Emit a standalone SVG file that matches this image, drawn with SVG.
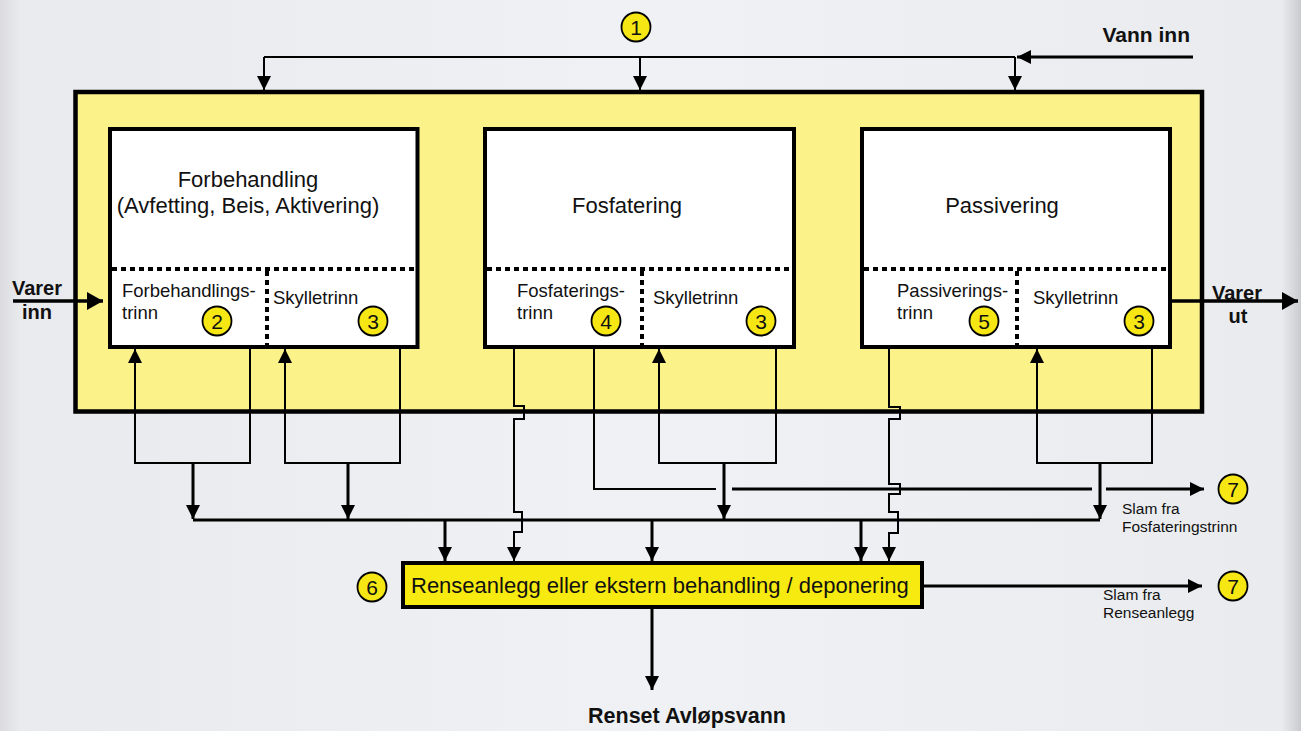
<svg xmlns="http://www.w3.org/2000/svg" width="1301" height="731" viewBox="0 0 1301 731">
<defs>
<linearGradient id="bg" x1="0" y1="0" x2="1" y2="0">
<stop offset="0" stop-color="#DCDCE0"/>
<stop offset="0.015" stop-color="#E8EAEE"/>
<stop offset="0.5" stop-color="#EFF1F4"/>
<stop offset="0.985" stop-color="#E9EBEE"/>
<stop offset="1" stop-color="#C9CBCF"/>
</linearGradient>
<marker id="ah" viewBox="0 0 14 14" refX="14" refY="7" markerWidth="14" markerHeight="14" markerUnits="userSpaceOnUse" orient="auto"><path d="M0,0 L14,7 L0,14 z" fill="#000"/></marker>
<marker id="ahL" viewBox="0 0 16 18" refX="16" refY="9" markerWidth="16" markerHeight="18" markerUnits="userSpaceOnUse" orient="auto"><path d="M0,0 L16,9 L0,18 z" fill="#000"/></marker>
</defs>
<style>
text{font-family:"Liberation Sans",Arial,sans-serif;fill:#111}
.title{font-size:22px;text-anchor:middle}
.sub{font-size:18.5px}
.small{font-size:15.5px}
.bold{font-weight:bold}
.num{font-size:21px;text-anchor:middle}
.stage{fill:#fff;stroke:#000;stroke-width:4}
.dot{fill:none;stroke:#000;stroke-width:4;stroke-dasharray:5 4}
.badge{fill:#F6E714;stroke:#000;stroke-width:1.8}
.thin{fill:none;stroke:#000;stroke-width:2}
.thick{fill:none;stroke:#000;stroke-width:3}
</style>
<rect x="0" y="0" width="1301" height="731" fill="url(#bg)"/>

<g id="plant">
<rect x="75.5" y="92" width="1126.5" height="319.5" fill="#FBF28A" stroke="#000" stroke-width="4.5"/>
</g>

<g id="stage-forbehandling">
<rect class="stage" x="110" y="129" width="307.5" height="218"/>
<line class="dot" x1="112" y1="269" x2="415" y2="269"/>
<line class="dot" x1="267" y1="271" x2="267" y2="345"/>
<text class="title" x="248" y="187">Forbehandling</text>
<text class="title" x="248" y="213">(Avfetting, Beis, Aktivering)</text>
<text class="sub" x="122" y="297">Forbehandlings-</text>
<text class="sub" x="122" y="319">trinn</text>
<text class="sub" x="273" y="304">Skylletrinn</text>
</g>

<g id="stage-fosfatering">
<rect class="stage" x="485" y="129" width="309" height="218"/>
<line class="dot" x1="487" y1="269" x2="792" y2="269"/>
<line class="dot" x1="642" y1="271" x2="642" y2="345"/>
<text class="title" x="627" y="213">Fosfatering</text>
<text class="sub" x="517" y="297">Fosfaterings-</text>
<text class="sub" x="517" y="319">trinn</text>
<text class="sub" x="653" y="304">Skylletrinn</text>
</g>

<g id="stage-passivering">
<rect class="stage" x="862" y="129" width="308" height="218"/>
<line class="dot" x1="864" y1="269" x2="1168" y2="269"/>
<line class="dot" x1="1017" y1="271" x2="1017" y2="345"/>
<text class="title" x="1002" y="213">Passivering</text>
<text class="sub" x="897" y="297">Passiverings-</text>
<text class="sub" x="897" y="319">trinn</text>
<text class="sub" x="1033" y="304">Skylletrinn</text>
</g>

<g id="renseanlegg">
<rect x="403" y="563" width="519" height="44" fill="#F7EA10" stroke="#000" stroke-width="4"/>
<text x="411" y="593" style="font-size:22px">Renseanlegg eller ekstern behandling / deponering</text>
</g>

<g id="connectors">
<path class="thick" d="M1193,57 H1017" marker-end="url(#ah)"/>
<path class="thin" d="M264,57 H1015"/>
<path class="thin" d="M264,57 V90" marker-end="url(#ah)"/>
<path class="thin" d="M640,57 V90" marker-end="url(#ah)"/>
<path class="thin" d="M1015,57 V90" marker-end="url(#ah)"/>
<path d="M13,301 H103" fill="none" stroke="#000" stroke-width="3.5" marker-end="url(#ahL)"/>
<path d="M1172,301 H1298" fill="none" stroke="#000" stroke-width="3.5" marker-end="url(#ahL)"/>

<path class="thin" d="M250,347 V463 H135 V349" marker-end="url(#ah)"/>
<path class="thin" d="M400,347 V463 H285 V349" marker-end="url(#ah)"/>
<path class="thick" d="M193,463 V519" marker-end="url(#ah)"/>
<path class="thick" d="M348,463 V519" marker-end="url(#ah)"/>

<path class="thin" d="M776,347 V463 H659 V349" marker-end="url(#ah)"/>
<path class="thick" d="M724,463 V519" marker-end="url(#ah)"/>
<path class="thin" d="M594,347 V489 H716"/>
<path class="thick" d="M732,489 H1092"/>
<path class="thick" d="M1106,489 H1204" marker-end="url(#ah)"/>
<path class="thin" d="M514,347 V406 H524 V419 H514 V512 H522 V532 H514 V561" marker-end="url(#ah)"/>

<path class="thin" d="M1152,347 V463 H1037 V349" marker-end="url(#ah)"/>
<path class="thick" d="M1100,463 V519" marker-end="url(#ah)"/>
<path class="thin" d="M889,347 V407 H900 V419 H889 V484 H900 V494 H889 V512 H898 V533 H889 V561" marker-end="url(#ah)"/>

<path class="thick" d="M193,520 H1100"/>
<path class="thick" d="M445,520 V561" marker-end="url(#ah)"/>
<path class="thick" d="M652,520 V561" marker-end="url(#ah)"/>
<path class="thick" d="M861,520 V561" marker-end="url(#ah)"/>
<path class="thick" d="M922,586 H1202" marker-end="url(#ah)"/>
<path class="thick" d="M652,607 V690" marker-end="url(#ah)"/>
</g>

<g id="badges">
<g id="b1"><circle class="badge" cx="636" cy="27" r="14.5"/><text class="num" x="636" y="34.5">1</text></g>
<g id="b2"><circle class="badge" cx="217" cy="321" r="14.5"/><text class="num" x="217" y="328.5">2</text></g>
<g id="b3a"><circle class="badge" cx="373" cy="321" r="14.5"/><text class="num" x="373" y="328.5">3</text></g>
<g id="b4"><circle class="badge" cx="606" cy="321" r="14.5"/><text class="num" x="606" y="328.5">4</text></g>
<g id="b3b"><circle class="badge" cx="761" cy="321" r="14.5"/><text class="num" x="761" y="328.5">3</text></g>
<g id="b5"><circle class="badge" cx="984" cy="321" r="14.5"/><text class="num" x="984" y="328.5">5</text></g>
<g id="b3c"><circle class="badge" cx="1139" cy="321" r="14.5"/><text class="num" x="1139" y="328.5">3</text></g>
<g id="b6"><circle class="badge" cx="372" cy="587" r="14.5"/><text class="num" x="372" y="594.5">6</text></g>
<g id="b7a"><circle class="badge" cx="1233" cy="489" r="14.5"/><text class="num" x="1233" y="496.5">7</text></g>
<g id="b7b"><circle class="badge" cx="1233" cy="586" r="14.5"/><text class="num" x="1233" y="593.5">7</text></g>
</g>

<g id="labels">
<text class="bold" x="1190" y="42" style="font-size:21px;text-anchor:end">Vann inn</text>
<text class="bold" x="37" y="295" style="font-size:20px;text-anchor:middle">Varer</text>
<text class="bold" x="37" y="319" style="font-size:20px;text-anchor:middle">inn</text>
<text class="bold" x="1237" y="300" style="font-size:20px;text-anchor:middle">Varer</text>
<text class="bold" x="1238" y="323" style="font-size:20px;text-anchor:middle">ut</text>
<text class="small" x="1122" y="514">Slam fra</text>
<text class="small" x="1122" y="532">Fosfateringstrinn</text>
<text class="small" x="1103" y="600">Slam fra</text>
<text class="small" x="1103" y="618">Renseanlegg</text>
<text class="bold" x="687" y="723" style="font-size:21.5px;text-anchor:middle">Renset Avløpsvann</text>
</g>
</svg>
